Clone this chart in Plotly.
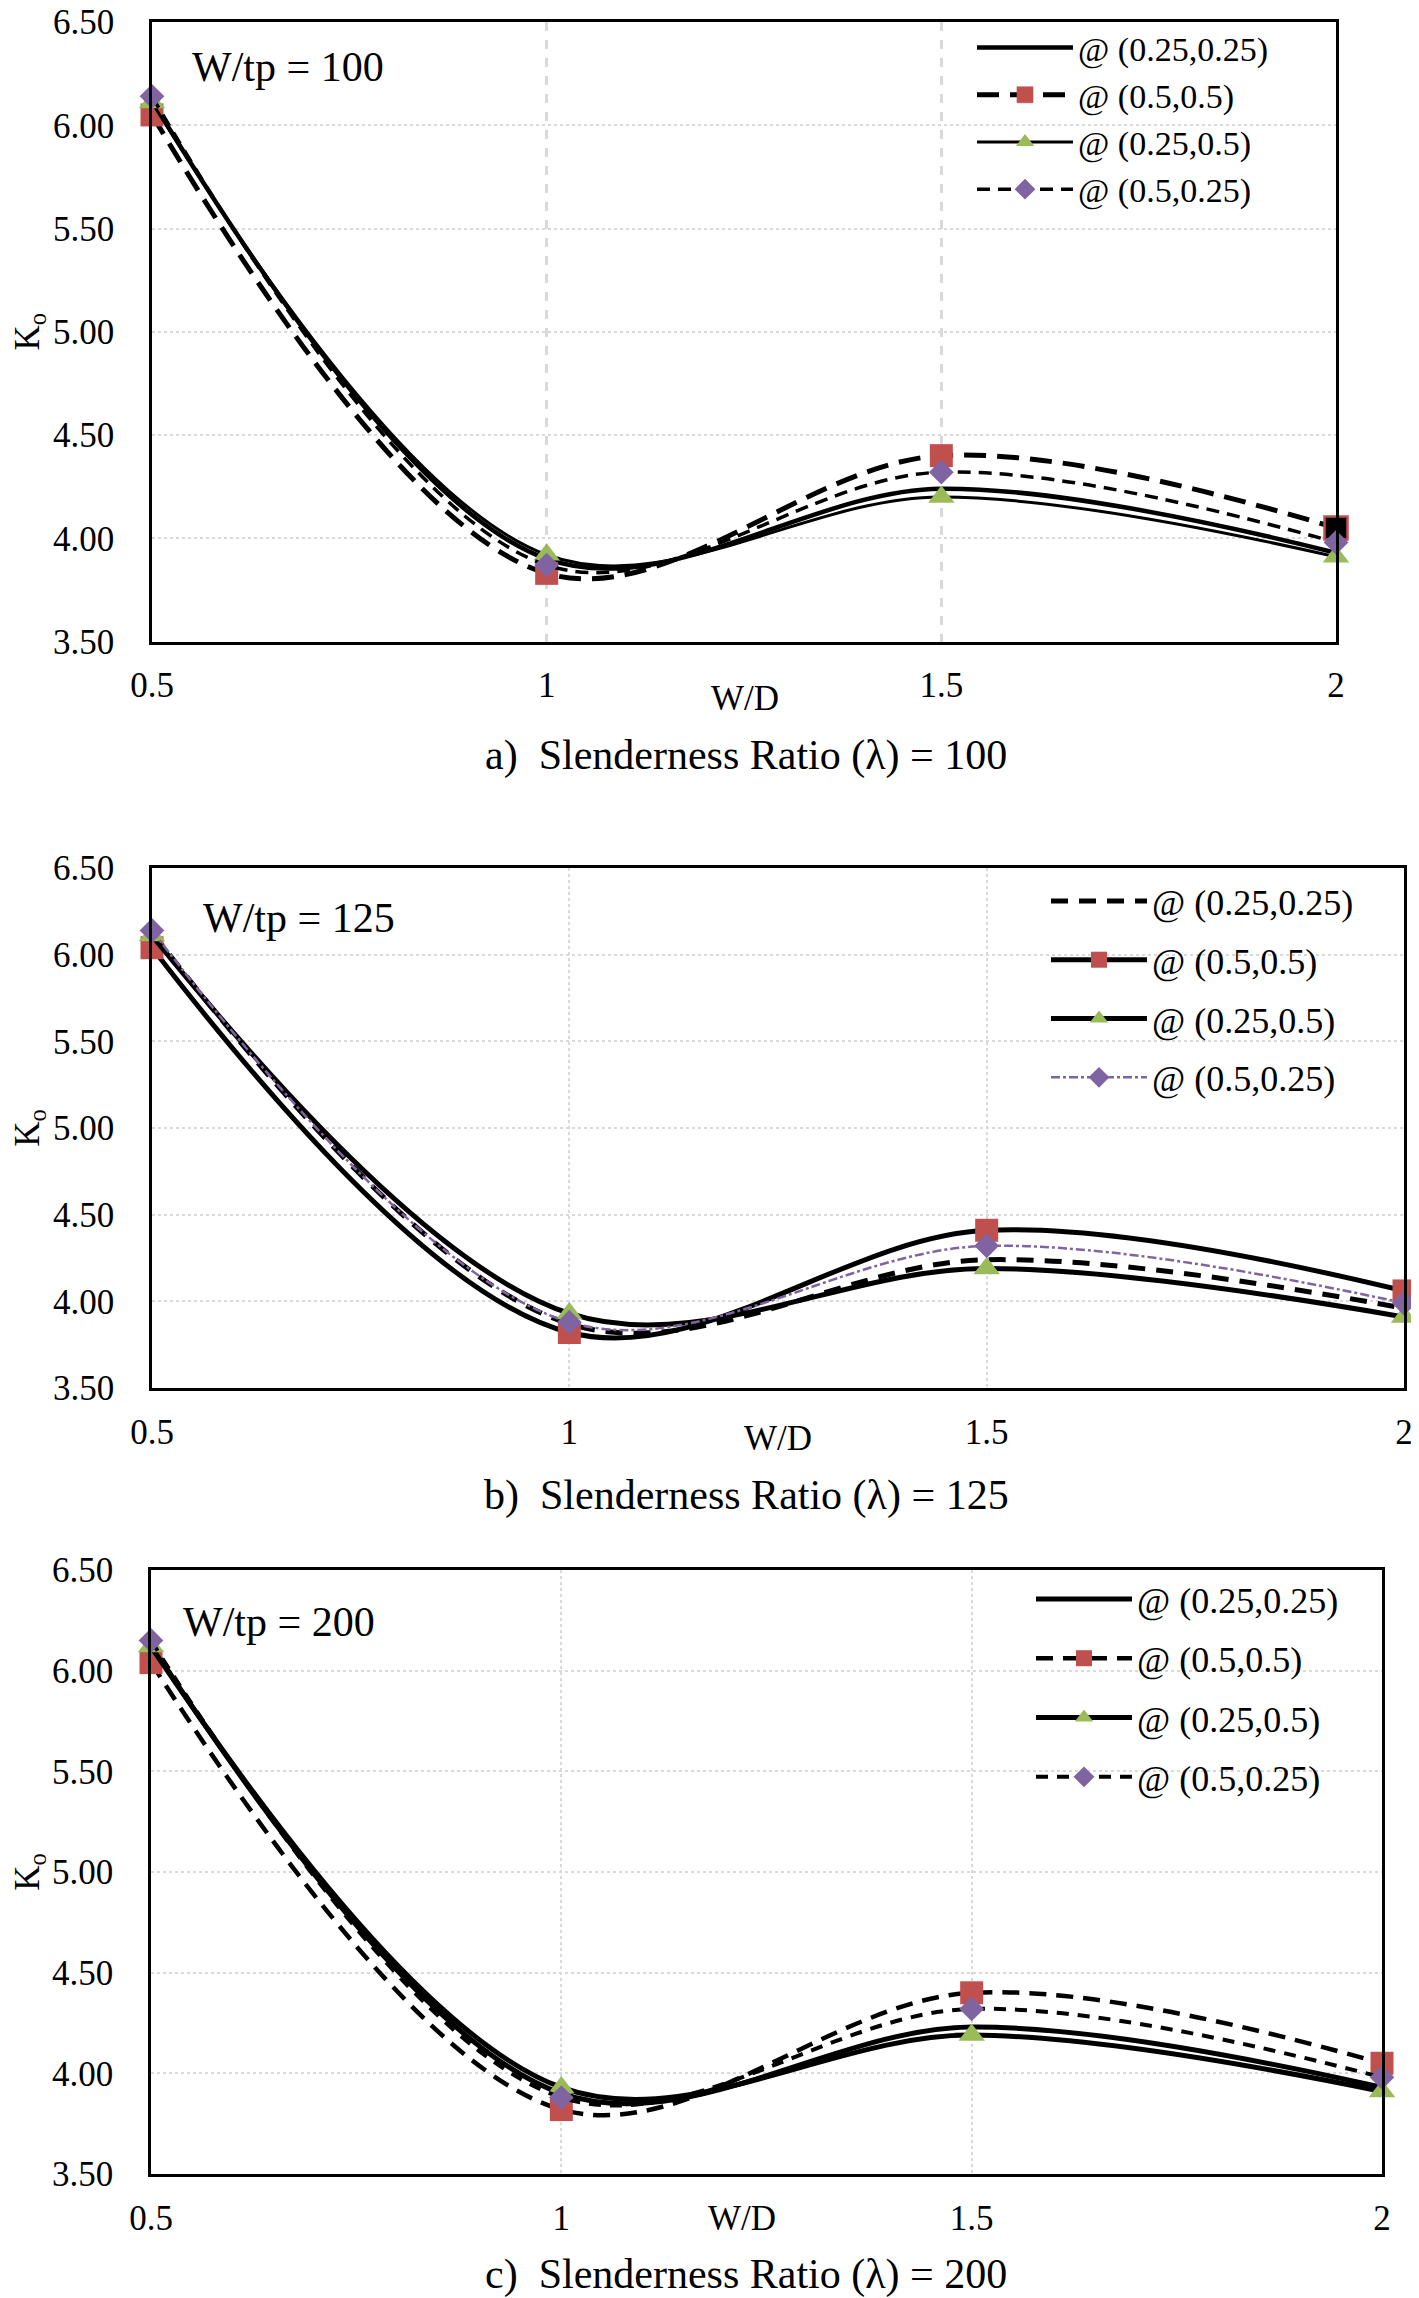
import plotly.graph_objects as go

# page is 1419 x 2298; the html body adds an 8 px margin, so the figure is 8 px smaller
PAGE_W, PAGE_H, BODY = 1419, 2298, 8
W, H = PAGE_W - BODY, PAGE_H - BODY
FONT = "Liberation Serif"

# ---------------- data ----------------
X_WD = [0.5, 1.0, 1.5, 2.0]
X_TICK_LABELS = ["0.5", "1", "1.5", "2"]
Y_TICKS = [3.5, 4.0, 4.5, 5.0, 5.5, 6.0, 6.5]
Y_TICK_LABELS = ["3.50", "4.00", "4.50", "5.00", "5.50", "6.00", "6.50"]
SERIES_NAMES = ["@ (0.25,0.25)", "@ (0.5,0.5)", "@ (0.25,0.5)", "@ (0.5,0.25)"]

# a) lambda = 100, W/tp = 100
A_025_025 = [6.12, 3.90, 4.24, 3.93]
A_05_05 = [6.05, 3.83, 4.40, 4.05]
A_025_05 = [6.11, 3.92, 4.20, 3.91]
A_05_025 = [6.14, 3.87, 4.32, 3.98]

# b) lambda = 125, W/tp = 125
B_025_025 = [6.13, 3.87, 4.24, 3.96]
B_05_05 = [6.04, 3.82, 4.41, 4.06]
B_025_05 = [6.11, 3.93, 4.19, 3.91]
B_05_025 = [6.14, 3.88, 4.32, 3.99]

# c) lambda = 200, W/tp = 200
C_025_025 = [6.13, 3.90, 4.23, 3.93]
C_05_05 = [6.04, 3.82, 4.40, 4.05]
C_025_05 = [6.12, 3.93, 4.19, 3.91]
C_05_025 = [6.15, 3.88, 4.32, 3.98]

PANEL_TITLES = ["W/tp = 100", "W/tp = 125", "W/tp = 200"]
CAPTIONS = ["a)  Slenderness Ratio (λ) = 100",
            "b)  Slenderness Ratio (λ) = 125",
            "c)  Slenderness Ratio (λ) = 200"]

RED, GREEN, PURPLE = "#C0504D", "#9BBB59", "#8064A2"


def px(x):
    return (x - BODY) / W


def py(y):
    return 1 - (y - BODY) / H


# ---------------- styles ----------------
STY_A = [
    dict(line=dict(color="black", width=4.5), mode="lines"),
    dict(line=dict(color="black", width=5, dash="22px,11px"), mode="lines+markers",
         marker=dict(symbol="square", size=23, color=[RED, RED, RED, "black"],
                     line=dict(color=RED, width=[0, 0, 0, 2.5]))),
    dict(line=dict(color="black", width=3), mode="lines+markers",
         marker=dict(symbol="triangle-up", size=23, color=GREEN)),
    dict(line=dict(color="black", width=3.5, dash="13px,8px"), mode="lines+markers",
         marker=dict(symbol="diamond", size=19, color=PURPLE)),
]
STY_B = [
    dict(line=dict(color="black", width=5, dash="17px,11px"), mode="lines"),
    dict(line=dict(color="black", width=5), mode="lines+markers",
         marker=dict(symbol="square", size=23, color=RED)),
    dict(line=dict(color="black", width=5), mode="lines+markers",
         marker=dict(symbol="triangle-up", size=23, color=GREEN)),
    dict(line=dict(color=PURPLE, width=2.5, dash="dashdot"), mode="lines+markers",
         marker=dict(symbol="diamond", size=19, color=PURPLE)),
]
STY_C = [
    dict(line=dict(color="black", width=5), mode="lines"),
    dict(line=dict(color="black", width=4.5, dash="17px,10px"), mode="lines+markers",
         marker=dict(symbol="square", size=23, color=RED)),
    dict(line=dict(color="black", width=5), mode="lines+markers",
         marker=dict(symbol="triangle-up", size=23, color=GREEN)),
    dict(line=dict(color="black", width=4, dash="12px,9px"), mode="lines+markers",
         marker=dict(symbol="diamond", size=19, color=PURPLE)),
]

PANELS = [
    dict(series=[A_025_025, A_05_05, A_025_05, A_05_025], styles=STY_A,
         xdom=(152, 1336), ydom=(22, 641.5),
         vgrid=dict(griddash="dash", gridwidth=3, gridcolor="#D9D9D9"),
         legend_xy=(972, 19), legend_gap=0, legend_size=34,
         title_xy=(190, 67), wd_xy=(745, 699), cap_xy=(746, 756)),
    dict(series=[B_025_025, B_05_05, B_025_05, B_05_025], styles=STY_B,
         xdom=(152, 1404), ydom=(868, 1388),
         vgrid=dict(griddash="dot", gridwidth=1.5, gridcolor="#D9D9D9"),
         legend_xy=(1046, 871), legend_gap=9, legend_size=36,
         title_xy=(201, 918), wd_xy=(778, 1438), cap_xy=(746, 1495)),
    dict(series=[C_025_025, C_05_05, C_025_05, C_05_025], styles=STY_C,
         xdom=(151, 1382), ydom=(1570, 2174),
         vgrid=dict(griddash="dot", gridwidth=1.5, gridcolor="#D9D9D9"),
         legend_xy=(1031, 1569), legend_gap=9.5, legend_size=36,
         title_xy=(181, 1622), wd_xy=(742, 2218), cap_xy=(746, 2274)),
]

fig = go.Figure()
annotations = []
layout = dict(
    width=W, height=H, autosize=False,
    margin=dict(l=0, r=0, t=0, b=0, autoexpand=False),
    paper_bgcolor="white", plot_bgcolor="white",
    font=dict(family=FONT, color="black", size=35),
)

for i, p in enumerate(PANELS):
    n = "" if i == 0 else str(i + 1)
    xa, ya = "x" + n, "y" + n
    lg = "legend" + n
    for name, vals, sty in zip(SERIES_NAMES, p["series"], p["styles"]):
        fig.add_trace(go.Scatter(
            x=X_WD, y=vals, name=name, xaxis=xa, yaxis=ya, legend=lg,
            legendgroup=f"{i}-{name}", line_shape="spline", cliponaxis=False,
            **sty))
    layout["xaxis" + n] = dict(
        domain=[px(p["xdom"][0]), px(p["xdom"][1])], anchor=ya,
        range=[0.5, 2.0], tickvals=X_WD, ticktext=X_TICK_LABELS,
        showline=True, mirror=True, linecolor="black", linewidth=2.5,
        showgrid=True, zeroline=False, ticks="", ticklabelstandoff=11,
        automargin=False, ticklabeloverflow="allow",
        tickfont=dict(size=35, family=FONT, color="black"),
        **p["vgrid"])
    layout["yaxis" + n] = dict(
        domain=[py(p["ydom"][1]), py(p["ydom"][0])], anchor=xa,
        range=[3.5, 6.5], tickvals=Y_TICKS, ticktext=Y_TICK_LABELS,
        showline=True, mirror=True, linecolor="black", linewidth=2.5,
        showgrid=True, gridcolor="#D9D9D9", griddash="dot", gridwidth=1.5,
        zeroline=False, ticks="", ticklabelstandoff=28, automargin=False,
        ticklabeloverflow="allow",
        tickfont=dict(size=35, family=FONT, color="black"),
        title=dict(text="K<sub>o</sub>", standoff=8,
                   font=dict(size=35, family=FONT, color="black")))
    layout[lg] = dict(
        x=px(p["legend_xy"][0]), y=py(p["legend_xy"][1]),
        xanchor="left", yanchor="top", bgcolor="rgba(0,0,0,0)",
        borderwidth=0, font=dict(size=p["legend_size"], family=FONT, color="black"),
        itemwidth=96, traceorder="grouped", tracegroupgap=p["legend_gap"],
        itemsizing="trace")
    annotations.append(dict(
        text=PANEL_TITLES[i], x=px(p["title_xy"][0]), y=py(p["title_xy"][1]),
        xref="paper", yref="paper", xanchor="left", yanchor="middle",
        showarrow=False, font=dict(size=42, family=FONT, color="black")))
    annotations.append(dict(
        text="W/D", x=px(p["wd_xy"][0]), y=py(p["wd_xy"][1]),
        xref="paper", yref="paper", xanchor="center", yanchor="middle",
        showarrow=False, font=dict(size=35, family=FONT, color="black")))
    annotations.append(dict(
        text=CAPTIONS[i], x=px(p["cap_xy"][0]), y=py(p["cap_xy"][1]),
        xref="paper", yref="paper", xanchor="center", yanchor="middle",
        showarrow=False, font=dict(size=42, family=FONT, color="black")))

layout["annotations"] = annotations
fig.update_layout(**layout)
fig.write_html("out.html")
